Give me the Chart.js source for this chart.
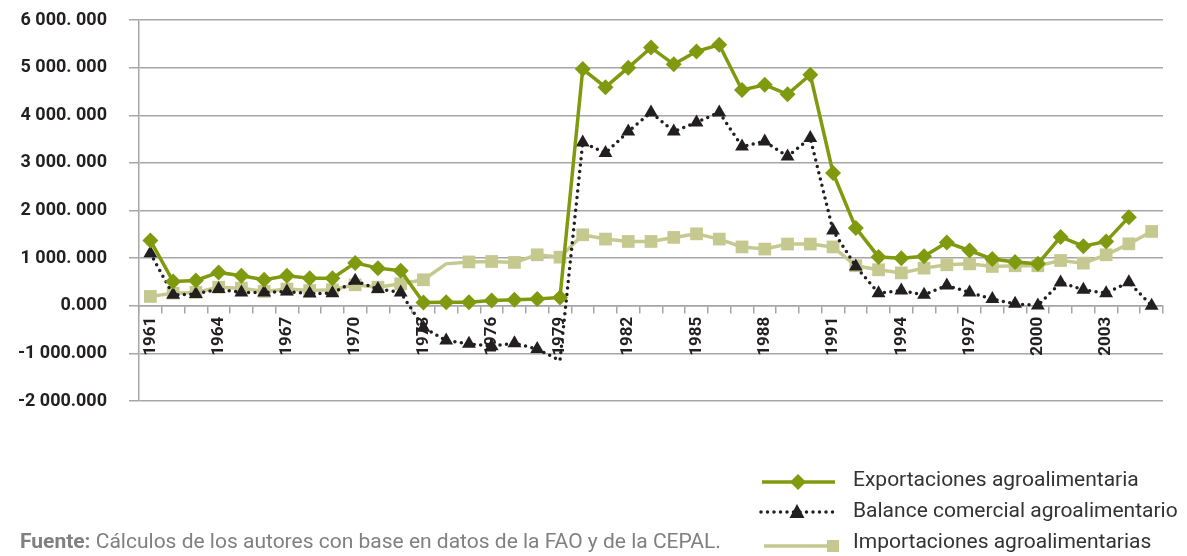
<!DOCTYPE html>
<html lang="es">
<head>
<meta charset="utf-8" />
<script src="https://cdn.jsdelivr.net/npm/chart.js@4.4.1/dist/chart.umd.min.js"></script>
<style>
  html, body { margin: 0; padding: 0; background: #fff; }
</style>
<title>Comercio agroalimentario</title>
</head>
<body>
<canvas id="grafico" width="1187" height="556"></canvas>
<script>
// Años (categorías del eje x)
const anios = ["1961","1962","1963","1964","1965","1966","1967","1968","1969","1970",
  "1971","1972","1973","1974","1975","1976","1977","1978","1979","1980",
  "1981","1982","1983","1984","1985","1986","1987","1988","1989","1990",
  "1991","1992","1993","1994","1995","1996","1997","1998","1999","2000",
  "2001","2002","2003","2004","2005"];

// Series
const exportaciones = [1370, 510, 530, 700, 630, 545, 630, 580, 580, 900,
  790, 735, 70, 75, 75, 110, 125, 140, 175, 4970,
  4590, 5000, 5420, 5070, 5340, 5480, 4530, 4640, 4440, 4850,
  2790, 1635, 1025, 995, 1040, 1330, 1160, 980, 920, 880,
  1445, 1250, 1350, 1860, null];
const balance = [1100, 230, 245, 350, 280, 280, 300, 255, 265, 525,
  350, 280, -460, -730, -800, -850, -785, -910, -1150, 3430,
  3205, 3660, 4060, 3660, 3850, 4060, 3345, 3450, 3135, 3520,
  1580, 825, 265, 320, 230, 425, 280, 140, 40, 5,
  490, 335, 265, 495, 0];
const importaciones = [195, 265, 280, 390, 370, 300, 350, 320, 335, 440,
  390, 460, 545, 880, 920, 930, 910, 1070, 1020, 1490,
  1400, 1350, 1350, 1435, 1510, 1400, 1235, 1190, 1295, 1295,
  1235, 840, 755, 690, 790, 860, 880, 825, 840, 840,
  950, 895, 1070, 1300, 1560];

// Etiquetas del eje y, de abajo hacia arriba
const etiquetasY = ["-2 000.000", "-1 000.000", "0.000", "1 000. 000", "2 000. 000",
  "3 000. 000", "4 000. 000", "5 000. 000", "6 000. 000"];

const nombres = ["Exportaciones agroalimentaria", "Balance comercial agroalimentario", "Importaciones agroalimentarias"];
const colores = ["#7f9a0e", "#231f20", "#c6c98f"];

// Leyenda y fuente dibujadas a mano abajo
const leyendaAbajo = {
  id: "leyendaAbajo",
  afterDraw(chart) {
    const ctx = chart.ctx;
    ctx.save();
    // exportaciones
    ctx.strokeStyle = colores[0]; ctx.lineWidth = 3.5;
    ctx.beginPath(); ctx.moveTo(762, 482); ctx.lineTo(835, 482); ctx.stroke();
    ctx.fillStyle = colores[0];
    ctx.beginPath(); ctx.moveTo(798, 474); ctx.lineTo(806, 482); ctx.lineTo(798, 490); ctx.lineTo(790, 482); ctx.closePath(); ctx.fill();
    // balance
    ctx.strokeStyle = colores[1]; ctx.lineWidth = 3.5; ctx.lineCap = "round"; ctx.setLineDash([0, 6.5]);
    ctx.beginPath(); ctx.moveTo(761, 512); ctx.lineTo(836, 512); ctx.stroke();
    ctx.setLineDash([]);
    ctx.fillStyle = colores[1];
    ctx.beginPath(); ctx.moveTo(797, 504); ctx.lineTo(804.5, 518); ctx.lineTo(789.5, 518); ctx.closePath(); ctx.fill();
    // importaciones
    ctx.strokeStyle = colores[2]; ctx.lineWidth = 3.5; ctx.lineCap = "butt";
    ctx.beginPath(); ctx.moveTo(764, 546); ctx.lineTo(830, 546); ctx.stroke();
    ctx.fillStyle = colores[2];
    ctx.fillRect(827, 540, 12, 12);
    // textos
    ctx.fillStyle = "#333333";
    ctx.font = "21px Roboto";
    ctx.textBaseline = "middle";
    ctx.fillText(nombres[0], 853, 481);
    ctx.fillText(nombres[1], 853, 512);
    ctx.fillText(nombres[2], 853, 543);
    // fuente
    ctx.fillStyle = "#808080";
    ctx.font = "bold 21px Roboto";
    ctx.fillText("Fuente:", 20, 543);
    const w = ctx.measureText("Fuente: ").width;
    ctx.font = "21px Roboto";
    ctx.fillText("Cálculos de los autores con base en datos de la FAO y de la CEPAL.", 20 + w, 543);
    ctx.restore();
  }
};

new Chart(document.getElementById("grafico").getContext("2d"), {
  type: "line",
  data: {
    labels: anios,
    datasets: [
      {
        label: nombres[0], data: exportaciones,
        borderColor: colores[0], backgroundColor: colores[0], borderWidth: 3.5,
        pointStyle: "rectRot", pointRadius: 8, pointBorderWidth: 0, pointHoverRadius: 8
      },
      {
        label: nombres[1], data: balance,
        borderColor: colores[1], backgroundColor: colores[1], borderWidth: 3.5,
        borderDash: [0, 6.5], borderCapStyle: "round",
        pointStyle: "triangle", pointBorderWidth: 0,
        pointRadius: c => c.dataIndex === 18 ? 0 : 8
      },
      {
        label: nombres[2], data: importaciones,
        borderColor: colores[2], backgroundColor: colores[2], borderWidth: 3.5,
        pointStyle: "rect", pointBorderWidth: 0,
        pointRadius: c => c.dataIndex === 13 ? 0 : 9
      }
    ]
  },
  options: {
    responsive: false,
    animation: false,
    devicePixelRatio: 1,
    layout: { padding: { top: 20, right: 24, bottom: 155, left: 0 } },
    plugins: {
      legend: { display: false },
      tooltip: { enabled: false }
    },
    scales: {
      x: {
        position: { y: 0 },
        offset: true,
        grid: { offset: true, drawOnChartArea: false, tickLength: 7, color: "#a6a6a6", lineWidth: 1.5 },
        border: { color: "#a6a6a6", width: 1.5 },
        ticks: {
          autoSkip: false, minRotation: 90, maxRotation: 90, padding: 4,
          color: "#231f20", font: { family: "Roboto", size: 17, weight: "bold" },
          callback: function (v, i) { return i % 3 === 0 ? this.getLabelForValue(v) : ""; }
        }
      },
      y: {
        min: -2000, max: 6000,
        grid: { color: "#a6a6a6", lineWidth: 1.5, tickLength: 10 },
        border: { color: "#a6a6a6", width: 1.5 },
        ticks: {
          stepSize: 1000, padding: 22,
          color: "#231f20", font: { family: "Roboto", size: 18, weight: "bold" },
          callback: (v, i) => etiquetasY[i]
        },
        afterFit: s => { s.width = 139; s.paddingTop = 0; s.paddingBottom = 0; }
      }
    }
  },
  plugins: [leyendaAbajo]
});
</script>
</body>
</html>
